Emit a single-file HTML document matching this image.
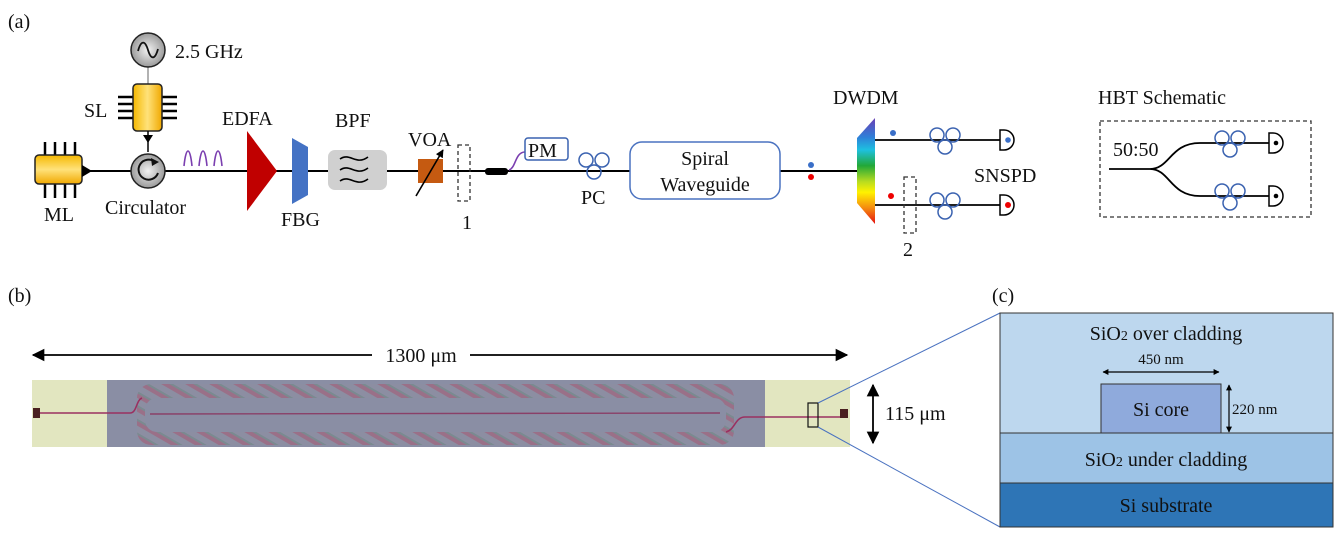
<!DOCTYPE html>
<html><head><meta charset="utf-8"><style>
body{margin:0;background:#fff}
svg{display:block}
text{font-family:"Liberation Serif",serif;fill:#111}
</style></head><body>
<svg width="1336" height="541" viewBox="0 0 1336 541" xmlns="http://www.w3.org/2000/svg">
<defs>
<linearGradient id="ylw" x1="0" y1="0" x2="0" y2="1"><stop offset="0" stop-color="#f5b800"/><stop offset=".5" stop-color="#ffe27a"/><stop offset="1" stop-color="#f0a800"/></linearGradient>
<linearGradient id="ylwv" x1="0" y1="0" x2="1" y2="0"><stop offset="0" stop-color="#f5b800"/><stop offset=".5" stop-color="#ffe27a"/><stop offset="1" stop-color="#f0a800"/></linearGradient>
<radialGradient id="gry"><stop offset="0" stop-color="#f2f2f2"/><stop offset="1" stop-color="#9a9a9a"/></radialGradient>
<linearGradient id="rb" x1="0" y1="0" x2="0" y2="1"><stop offset="0" stop-color="#6a3fb5"/><stop offset=".18" stop-color="#2f7fd8"/><stop offset=".3" stop-color="#1ec0e0"/><stop offset=".45" stop-color="#22a838"/><stop offset=".6" stop-color="#b8dc20"/><stop offset=".7" stop-color="#fff200"/><stop offset=".85" stop-color="#f58a10"/><stop offset="1" stop-color="#e41010"/></linearGradient>
<pattern id="hatch" width="12" height="12" patternUnits="userSpaceOnUse" patternTransform="rotate(-60)"><rect width="12" height="12" fill="#8c8ea2"/><rect width="4" height="12" fill="#9a7088"/><rect x="4" width="2" height="12" fill="#7a8a90"/></pattern>
<marker id="ah" viewBox="0 0 10 10" refX="9" refY="5" markerWidth="7" markerHeight="7" orient="auto-start-reverse"><path d="M0,0L10,5L0,10z" fill="#000"/></marker>
<marker id="ahs" viewBox="0 0 10 10" refX="9" refY="5" markerWidth="5" markerHeight="5" orient="auto-start-reverse"><path d="M0,0L10,5L0,10z" fill="#000"/></marker>
<g id="pc" fill="none" stroke="#3a62b0" stroke-width="1.5"><circle cx="-8" cy="-5" r="7"/><circle cx="8" cy="-5" r="7"/><circle cx="0" cy="7" r="7"/></g>
</defs>

<text x="8" y="28" font-size="20">(a)</text>
<line x1="85" y1="171" x2="857" y2="171" stroke="#000" stroke-width="2"/>
<g stroke="#000" stroke-width="2.5">
<line x1="45" y1="142" x2="45" y2="155"/><line x1="55" y1="142" x2="55" y2="155"/><line x1="65" y1="142" x2="65" y2="155"/><line x1="75" y1="142" x2="75" y2="155"/>
<line x1="45" y1="184" x2="45" y2="198"/><line x1="55" y1="184" x2="55" y2="198"/><line x1="65" y1="184" x2="65" y2="198"/><line x1="75" y1="184" x2="75" y2="198"/>
</g>
<rect x="35" y="155" width="47" height="29" rx="4" fill="url(#ylw)" stroke="#222" stroke-width="1.5"/>
<path d="M82,165L92,171L82,177z" fill="#000"/>
<text x="44" y="221" font-size="20">ML</text>
<circle cx="148" cy="171" r="17" fill="url(#gry)" stroke="#222" stroke-width="1.5"/>
<path d="M155,162A10,10 0 1 0 158,173" fill="none" stroke="#111" stroke-width="2"/>
<path d="M151,158L159,162L152,166z" fill="#111"/>
<text x="105" y="214" font-size="20">Circulator</text>
<line x1="148" y1="67" x2="148" y2="84" stroke="#999" stroke-width="1.5"/>
<g stroke="#000" stroke-width="2.5">
<line x1="118" y1="97" x2="133" y2="97"/><line x1="118" y1="104" x2="133" y2="104"/><line x1="118" y1="111" x2="133" y2="111"/><line x1="118" y1="118" x2="133" y2="118"/>
<line x1="162" y1="97" x2="177" y2="97"/><line x1="162" y1="104" x2="177" y2="104"/><line x1="162" y1="111" x2="177" y2="111"/><line x1="162" y1="118" x2="177" y2="118"/>
</g>
<rect x="133" y="84" width="29" height="47" rx="4" fill="url(#ylwv)" stroke="#222" stroke-width="1.5"/>
<line x1="148" y1="131" x2="148" y2="152" stroke="#000" stroke-width="1.5"/>
<path d="M143,135L153,135L148,143z" fill="#000"/>
<text x="84" y="117" font-size="20">SL</text>
<circle cx="148" cy="50" r="17" fill="url(#gry)" stroke="#222" stroke-width="1.5"/>
<path d="M138,51C141,40 145,40 148,50C151,60 155,60 158,49" fill="none" stroke="#111" stroke-width="1.8"/>
<text x="175" y="58" font-size="20">2.5 GHz</text>
<path d="M184,166C186,146 190,146 192,166 M199,166C201,146 205,146 207,166 M214,166C216,146 220,146 222,166" fill="none" stroke="#7b3fb0" stroke-width="1.6"/>
<path d="M247,131L277,171L247,211z" fill="#c00000"/>
<text x="222" y="125" font-size="20">EDFA</text>
<path d="M292,138L308,147L308,195L292,204z" fill="#4472c4"/>
<text x="281" y="226" font-size="20">FBG</text>
<rect x="328" y="150" width="59" height="40" rx="7" fill="#d0d0d0"/>
<path d="M340,159C350,152 356,166 368,157M340,170C350,163 356,177 368,168M340,181C350,174 356,188 368,179" fill="none" stroke="#000" stroke-width="1.6"/>
<text x="335" y="127" font-size="20">BPF</text>
<rect x="418" y="159" width="25" height="24" fill="#c55a11"/>
<line x1="416" y1="196" x2="443" y2="150" stroke="#000" stroke-width="1.6" marker-end="url(#ahs)"/>
<text x="408" y="146" font-size="20">VOA</text>
<rect x="458" y="145" width="12" height="56" fill="none" stroke="#333" stroke-width="1.3" stroke-dasharray="4,3"/>
<text x="462" y="229" font-size="20">1</text>
<rect x="485" y="168" width="23" height="7" rx="3" fill="#000"/>
<path d="M509,170C516,168 515,152 525,152" fill="none" stroke="#7b3fb0" stroke-width="1.6"/>
<rect x="525" y="138" width="43" height="22" rx="3" fill="#fff" stroke="#3a62b0" stroke-width="1.5"/>
<text x="528" y="157" font-size="20">PM</text>
<use href="#pc" x="594" y="165"/>
<text x="581" y="204" font-size="20">PC</text>
<rect x="630" y="142" width="150" height="57" rx="12" fill="#fff" stroke="#4a72c0" stroke-width="1.5"/>
<text x="705" y="165" font-size="20" text-anchor="middle">Spiral</text>
<text x="705" y="191" font-size="20" text-anchor="middle">Waveguide</text>
<circle cx="811" cy="165" r="3" fill="#3a6fc8"/><circle cx="811" cy="177" r="3" fill="#e00"/>
<path d="M857,138L875,118L875,224L857,203z" fill="url(#rb)"/>
<text x="833" y="104" font-size="20">DWDM</text>
<line x1="875" y1="140" x2="1000" y2="140" stroke="#000" stroke-width="1.8"/>
<line x1="875" y1="205" x2="1000" y2="205" stroke="#000" stroke-width="1.8"/>
<circle cx="893" cy="133" r="3" fill="#3a6fc8"/><circle cx="891" cy="196" r="3" fill="#e00"/>
<use href="#pc" x="945" y="140"/><use href="#pc" x="945" y="205"/>
<path d="M1000,130h4a10,10 0 0 1 0,20h-4z" fill="#fff" stroke="#000" stroke-width="1.5"/>
<path d="M1000,195h4a10,10 0 0 1 0,20h-4z" fill="#fff" stroke="#000" stroke-width="1.5"/>
<circle cx="1008" cy="140" r="2.8" fill="#3a6fc8"/><circle cx="1008" cy="205" r="3" fill="#e00"/>
<rect x="904" y="177" width="12" height="56" fill="none" stroke="#333" stroke-width="1.3" stroke-dasharray="4,3"/>
<text x="903" y="256" font-size="20">2</text>
<text x="974" y="182" font-size="20">SNSPD</text>
<text x="1098" y="104" font-size="20">HBT Schematic</text>
<rect x="1100" y="121" width="211" height="96" fill="none" stroke="#333" stroke-width="1.3" stroke-dasharray="4,3"/>
<path d="M1109,169H1150C1170,169 1170,143 1200,143H1269M1150,169C1170,169 1170,196 1200,196H1269" fill="none" stroke="#000" stroke-width="1.8"/>
<use href="#pc" x="1230" y="143"/>
<use href="#pc" x="1230" y="196"/>
<path d="M1269,133h4a10,10 0 0 1 0,20h-4z" fill="#fff" stroke="#000" stroke-width="1.5"/>
<path d="M1269,186h4a10,10 0 0 1 0,20h-4z" fill="#fff" stroke="#000" stroke-width="1.5"/>
<circle cx="1276" cy="143" r="2.3" fill="#000"/><circle cx="1276" cy="196" r="2.3" fill="#000"/>
<text x="1113" y="156" font-size="20">50:50</text>

<text x="8" y="302" font-size="20">(b)</text>
<line x1="33" y1="355" x2="847" y2="355" stroke="#000" stroke-width="1.8" marker-start="url(#ah)" marker-end="url(#ah)"/>
<rect x="372" y="343" width="98" height="24" fill="#fff"/>
<text x="421" y="362" font-size="20" text-anchor="middle">1300 μm</text>
<rect x="32" y="380" width="818" height="67" fill="#e2e6c0"/>
<rect x="107" y="380" width="658" height="67" fill="#8a8ea4"/>
<rect x="137" y="384" width="597" height="61" rx="14" fill="url(#hatch)"/>
<rect x="145" y="398" width="581" height="34" rx="12" fill="#8a8ea4"/>
<path d="M38,413H130C137,413 136,400 142,398 M726,432C735,430 735,417 745,417H845" fill="none" stroke="#9a3060" stroke-width="1.6"/>
<line x1="150" y1="414" x2="720" y2="413" stroke="#8a4068" stroke-width="1.4"/>
<rect x="33" y="408" width="7" height="10" fill="#4a2020"/><rect x="840" y="409" width="8" height="9" fill="#4a2020"/>
<rect x="808" y="403" width="10" height="24" fill="none" stroke="#111" stroke-width="1.2"/>
<line x1="873" y1="385" x2="873" y2="443" stroke="#000" stroke-width="1.8" marker-start="url(#ah)" marker-end="url(#ah)"/>
<text x="885" y="420" font-size="20">115 μm</text>
<line x1="818" y1="403" x2="1000" y2="313" stroke="#4a72c0" stroke-width="1"/>
<line x1="818" y1="427" x2="1000" y2="527" stroke="#4a72c0" stroke-width="1"/>

<text x="992" y="302" font-size="20">(c)</text>
<rect x="1000" y="313" width="333" height="120" fill="#bdd7ee" stroke="#333" stroke-width="1"/>
<rect x="1000" y="433" width="333" height="50" fill="#9dc3e6" stroke="#333" stroke-width="1"/>
<rect x="1000" y="483" width="333" height="44" fill="#2e75b6" stroke="#333" stroke-width="1"/>
<rect x="1101" y="384" width="120" height="49" fill="#8faadc" stroke="#333" stroke-width="1"/>
<text x="1166" y="340" font-size="20" text-anchor="middle">SiO<tspan font-size="14">2</tspan> over cladding</text>
<text x="1161" y="364" font-size="15" text-anchor="middle">450 nm</text>
<line x1="1103" y1="372" x2="1219" y2="372" stroke="#000" stroke-width="1.2" marker-start="url(#ahs)" marker-end="url(#ahs)"/>
<line x1="1229" y1="385" x2="1229" y2="432" stroke="#000" stroke-width="1.2" marker-start="url(#ahs)" marker-end="url(#ahs)"/>
<text x="1232" y="414" font-size="15">220 nm</text>
<text x="1161" y="416" font-size="20" text-anchor="middle">Si core</text>
<text x="1166" y="466" font-size="20" text-anchor="middle">SiO<tspan font-size="14">2</tspan> under cladding</text>
<text x="1166" y="512" font-size="20" text-anchor="middle">Si substrate</text>
</svg>
</body></html>
